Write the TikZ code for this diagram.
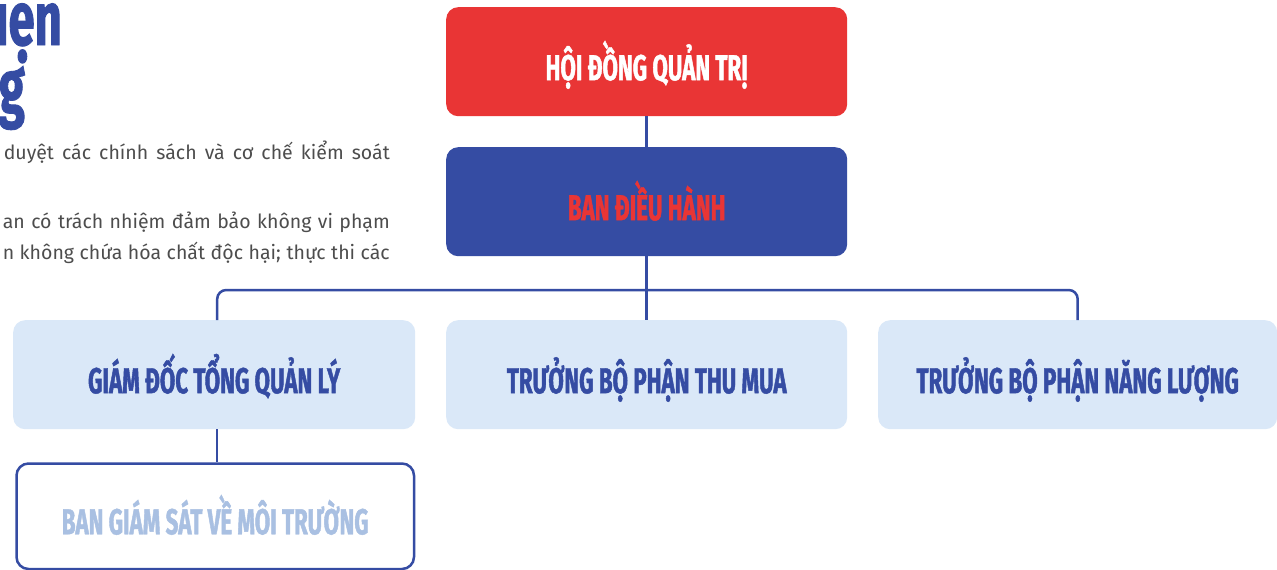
\documentclass[tikz,border=0pt]{standalone}
\usepackage{fontspec}
\setmainfont{Fira Sans}
\newfontfamily\headfont[FakeStretch=0.62, BoldFeatures={FakeBold=1.2}]{Fira Sans}
\usetikzlibrary{calc}
\definecolor{qred}{HTML}{E93535}
\definecolor{qblue}{HTML}{354CA3}
\definecolor{qlight}{HTML}{DAE8F8}
\definecolor{qpale}{HTML}{A9C0E2}
\definecolor{qgray}{HTML}{4D4D4D}
\begin{document}
\begin{tikzpicture}[x=1pt,y=-1pt,
  box/.style={rounded corners=12pt, minimum width=401pt, minimum height=109pt,
    inner sep=0pt, text height=37pt, text depth=0pt, anchor=north west,
    font=\headfont\bfseries\fontsize{36}{36}\selectfont},
  conn/.style={draw=qblue, line width=2.5pt},
  titletext/.style={text=qblue, inner sep=0pt, font=\headfont\bfseries\fontsize{76}{76}\selectfont},
  bodytext/.style={text=qgray, inner sep=0pt, anchor=base east, font=\fontsize{19.5}{19.5}\selectfont}
]
\useasboundingbox (0,0) rectangle (1277,570);
\fill[white] (0,0) rectangle (1277,570);

% left fragments
\node[titletext, anchor=base east] (t1) at (62,45) {iện};
\node[titletext, anchor=base east] (t2) at (25,113) {g};
\node[bodytext] (p1) at (390,159) {\makebox[386pt][s]{duyệt các chính sách và cơ chế kiểm soát}};
\node[bodytext] (p2) at (390,228) {\makebox[387pt][s]{an có trách nhiệm đảm bảo không vi phạm}};
\node[bodytext] (p3) at (390,259) {\makebox[387pt][s]{n không chứa hóa chất độc hại; thực thi các}};

% boxes
\node[box, fill=qred, text=white] (hdqt) at (446,7) {HỘI ĐỒNG QUẢN TRỊ};
\node[box, fill=qblue, text=qred] (bdh) at (446,147) {BAN ĐIỀU HÀNH};
\node[box, fill=qlight, text=qblue, minimum width=402pt] (gd) at (13,320) {GIÁM ĐỐC TỔNG QUẢN LÝ};
\node[box, fill=qlight, text=qblue] (tm) at (446,320) {TRƯỞNG BỘ PHẬN THU MUA};
\node[box, fill=qlight, text=qblue, minimum width=399pt] (nl) at (878,320) {TRƯỞNG BỘ PHẬN NĂNG LƯỢNG};
\node[box, fill=white, draw=qblue, line width=2.5pt, text=qpale, minimum width=397.5pt,
  minimum height=105.5pt, text height=36pt] (gs) at (15.25,462.25) {BAN GIÁM SÁT VỀ MÔI TRƯỜNG};

% connectors
\draw[conn] (hdqt.south) -- (bdh.north);
\draw[conn] (bdh.south) -- (tm.north);
\draw[conn, rounded corners=9pt] ([xshift=3pt]gd.north) -- ++(0,-30) -| (nl.north);
\draw[conn] ([xshift=3pt]gd.south) -- ([xshift=3pt]gd.south |- gs.north);
\end{tikzpicture}
\end{document}
